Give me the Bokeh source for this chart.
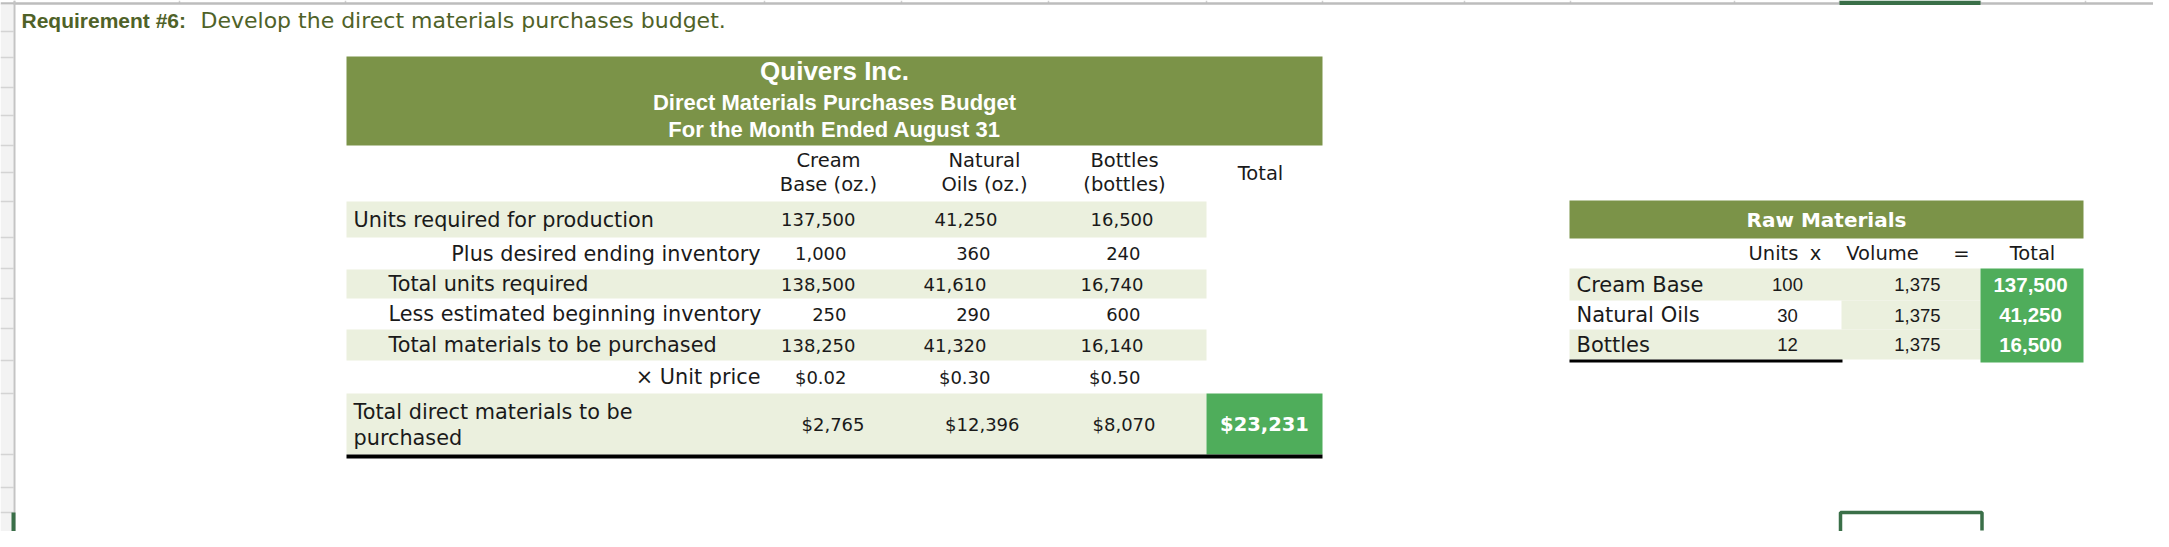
from bokeh.plotting import figure
from bokeh.models import Range1d, ColumnDataSource
from bokeh.core.properties import value
from bokeh.embed import file_html
from bokeh.resources import INLINE

# ---------------- data ----------------
requirement_bold = "Requirement #6:"
requirement_text = "Develop the direct materials purchases budget."
company = "Quivers Inc."
budget_title = "Direct Materials Purchases Budget"
period = "For the Month Ended August 31"
col_head_top = ["Cream", "Natural", "Bottles"]
col_head_bottom = ["Base (oz.)", "Oils (oz.)", "(bottles)"]
total_head = "Total"
row_labels = [
    "Units required for production",
    "Plus desired ending inventory",
    "Total units required",
    "Less estimated beginning inventory",
    "Total materials to be purchased",
    "\u00d7 Unit price",
    "Total direct materials to be|purchased",
]
cream_base = [137500, 1000, 138500, 250, 138250, 0.02, 2765]
natural_oils = [41250, 360, 41610, 290, 41320, 0.30, 12396]
bottles = [16500, 240, 16740, 600, 16140, 0.50, 8070]
grand_total = 23231

rm_title = "Raw Materials"
rm_headers = ["Units", "x", "Volume", "=", "Total"]
rm_names = ["Cream Base", "Natural Oils", "Bottles"]
rm_units = [100, 30, 12]
rm_volume = [1375, 1375, 1375]
rm_total = [137500, 41250, 16500]

# ---------------- styles / layout ----------------
FONT = "DejaVu Sans"
NUMFONT = "Liberation Sans"
HEAD_FONT = "Liberation Sans"
OLIVE = "#7b9348"
BAND = "#ebf0de"
GREEN = "#4fad5b"
TEXT = "#1a1a1a"
REQ = "#4f6228"
SEL = "#3a6f48"

p = figure(width=2153, height=531, output_backend="svg", toolbar_location=None,
           x_range=Range1d(0, 2153), y_range=Range1d(531, 0),
           x_axis_type=None, y_axis_type=None, min_border=0)
p.grid.visible = False
p.outline_line_color = None
p.background_fill_color = "white"
p.border_fill_color = "white"


def txt(xs, ys, texts, size, align="left", color=TEXT, bold=False, font=FONT, xoff=None):
    d = dict(x=list(xs), y=list(ys), t=list(texts))
    d["xo"] = list(xoff) if xoff is not None else [0] * len(d["x"])
    src = ColumnDataSource(d)
    p.text(x="x", y="y", text="t", x_offset="xo", source=src, text_font=value(font),
           text_font_size=size, text_align=align, text_baseline="middle",
           text_color=color, text_font_style="bold" if bold else "normal")


def box(l, r, t, b, color):
    p.quad(left=[l], right=[r], top=[t], bottom=[b], fill_color=color, line_color=None)


# spreadsheet chrome: column-header edge and row-header strip
col_ticks = [14, 179, 345, 764, 901, 1048, 1206, 1322, 1464, 1570, 1734, 1839, 1980, 2085]
p.segment(x0=col_ticks, x1=col_ticks, y0=[0] * len(col_ticks), y1=[3] * len(col_ticks),
          line_color="#d0d0d0", line_width=1.5)
p.segment(x0=[0], x1=[2153], y0=[3], y1=[3], line_color="#bdbdbd", line_width=2.5)
box(1839, 1980, 0, 4.5, SEL)

row_lines = [31, 57, 87, 115, 145, 172, 201, 237, 268, 298, 328, 360, 393, 454, 487, 512, 540]
box(0, 13, 4, 547, "#f3f3f3")
p.segment(x0=[0] * len(row_lines), x1=[13] * len(row_lines), y0=row_lines, y1=row_lines,
          line_color="#d4d4d4", line_width=1.5)
p.segment(x0=[14], x1=[14], y0=[0], y1=[547], line_color="#c4c4c4", line_width=2)
box(11, 15, 512, 540, SEL)

# requirement line
txt([21], [20], [requirement_bold], "21px", color=REQ, bold=True, font=HEAD_FONT)
txt([200], [20], [requirement_text], "22px", color=REQ)

# ---------------- main budget table ----------------
T_L, T_V, T_R = 346, 1206, 1322
box(T_L, T_R, 56, 145, OLIVE)
txt([834], [70], [company], "26px", align="center", color="white", bold=True, font=HEAD_FONT)
txt([834], [102], [budget_title], "22px", align="center", color="white", bold=True, font=HEAD_FONT)
txt([834], [129], [period], "22px", align="center", color="white", bold=True, font=HEAD_FONT)

col_centers = [828, 984, 1124]
txt(col_centers, [160] * 3, col_head_top, "19.5px", align="center")
txt(col_centers, [184] * 3, col_head_bottom, "19.5px", align="center")
txt([1260], [173], [total_head], "19.5px", align="center")

row_edges = [201, 237, 269, 298, 329, 360, 393, 454]
for i in (0, 2, 4):
    box(T_L, T_V, row_edges[i], row_edges[i + 1], BAND)
box(T_L, T_V, row_edges[6], row_edges[7], BAND)
box(T_V, T_R, row_edges[6], row_edges[7], GREEN)
box(T_L, T_R, 454, 458, "#000000")

row_y = [(row_edges[i] + row_edges[i + 1]) / 2 for i in range(7)]
label_mode = ["l1", "r", "l2", "l2", "l2", "r", "multi"]
LAB = "20.8px"
for lab, mode, y in zip(row_labels, label_mode, row_y):
    if mode == "l1":
        txt([353], [y], [lab], LAB)
    elif mode == "l2":
        txt([388], [y], [lab], LAB)
    elif mode == "r":
        txt([760], [y], [lab], LAB, align="right")
    else:
        a, b = lab.split("|")
        txt([353, 353], [411, 437], [a, b], LAB)


def fmt(v, r):
    if r == 5:
        return f"${v:.2f}"
    if r == 6:
        return f"${v:,.0f}"
    return f"{v:,}"


col_right = [846, 990, 1140]
col_shift = [
    [9, 0, 9, 0, 9, 0, 18],
    [7, 0, -4, 0, -4, 0, 29],
    [13, 0, 3, 0, 3, 0, 15],
]
for ci, series in enumerate([cream_base, natural_oils, bottles]):
    labels = [fmt(v, r) for r, v in enumerate(series)]
    txt([col_right[ci]] * 7, row_y, labels, "18px", align="right", xoff=col_shift[ci])

txt([1264], [row_y[6]], [f"${grand_total:,}"], "19.5px", align="center", color="white", bold=True)

# ---------------- raw materials table ----------------
R_L, R_M, R_V, R_R = 1569, 1841, 1980, 2083
box(R_L, R_R, 200, 238, OLIVE)
txt([1826], [219], [rm_title], "20px", align="center", color="white", bold=True)
txt([1773, 1815, 1882, 1961, 2032], [253] * 5, rm_headers, "19.5px", align="center")

rm_edges = [268, 300, 329, 359]
box(R_L, R_V, rm_edges[0], rm_edges[1], BAND)
box(R_M, R_V, rm_edges[1], rm_edges[2], BAND)
box(R_L, R_V, rm_edges[2], rm_edges[3], BAND)
box(R_V, R_R, 268, 362, GREEN)
box(R_L, 1842, 359, 362, "#000000")

rm_y = [(rm_edges[i] + rm_edges[i + 1]) / 2 for i in range(3)]
txt([1576] * 3, rm_y, rm_names, "21px")
txt([1787] * 3, rm_y, [f"{u:,}" for u in rm_units], "18.5px", align="center", font=NUMFONT)
txt([1940] * 3, rm_y, [f"{v:,}" for v in rm_volume], "18.5px", align="right", font=NUMFONT)
txt([2030] * 3, rm_y, [f"{t:,}" for t in rm_total], "20.5px", align="center", color="white",
    bold=True, font=NUMFONT)

# selected cell
p.quad(left=[1840], right=[1981.5], top=[512], bottom=[540], fill_color=None,
       line_color=SEL, line_width=3.5)
box(1970, 1988, 530, 547, "white")
box(1973, 1985, 533, 544, SEL)

open("out.html", "w").write(file_html(p, INLINE))
